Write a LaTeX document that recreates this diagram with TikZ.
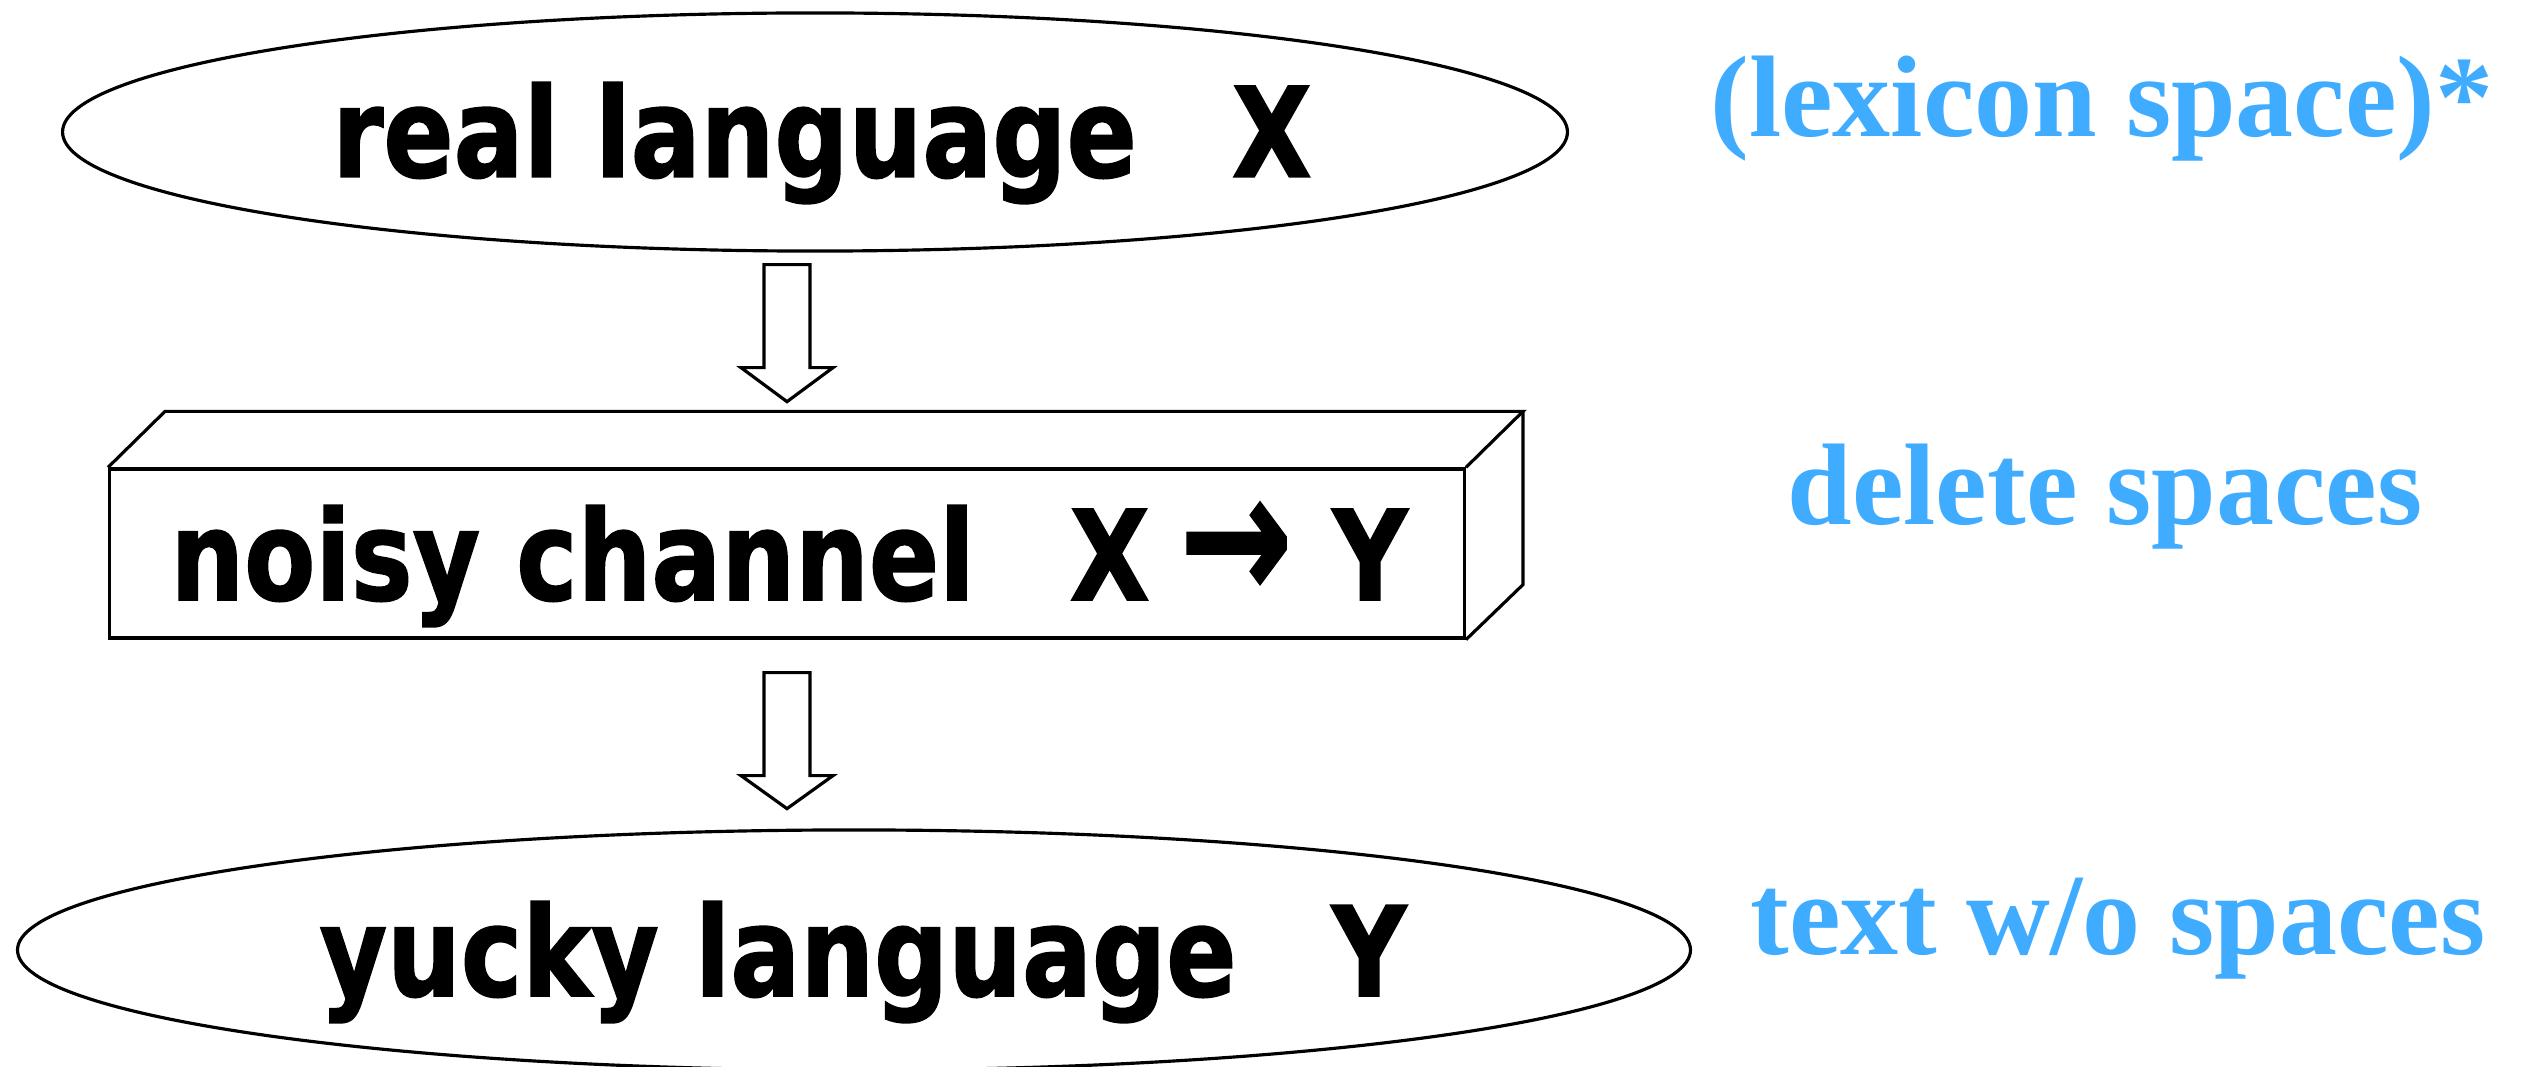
\documentclass[tikz,border=0pt]{standalone}
\usepackage{fontspec}
\usepackage{xcolor}
\usepackage{tikz}
\usetikzlibrary{shapes.geometric, calc}
\newfontfamily\slidefont{DejaVu Sans}[FakeStretch=0.83, FakeBold=1.2]
\newfontfamily\notefont{Liberation Serif}
\definecolor{noteblue}{RGB}{64,172,255}
\tikzstyle{language} = [ellipse, draw=black, line width=0.9pt, inner sep=0pt]
\tikzstyle{channel} = [rectangle, draw=black, line width=0.9pt, minimum width=13.54cm, minimum height=1.69cm, inner sep=0pt]
\tikzstyle{bigtext} = [anchor=base, inner sep=0pt, font=\slidefont\bfseries\fontsize{35.5}{42}\selectfont]
\tikzstyle{note} = [anchor=base, inner sep=0pt, text=noteblue, font=\notefont\bfseries\fontsize{33}{40}\selectfont]
\tikzstyle{edge} = [draw=black, line width=0.9pt]
\tikzstyle{blockarrow} = [draw=black, line width=0.9pt, fill=white, line join=miter]

\begin{document}
\begin{tikzpicture}[x=0.01cm, y=-0.01cm]
  \useasboundingbox (0,0) rectangle (2528,1067);

  % Real language
  \node (real) [language, minimum width=15.04cm, minimum height=2.38cm] at (815,132) {};
  \node (realtext) [bigtext] at (822,177) {real language\hspace{0.95cm}X};

  % Noisy channel (box)
  \node (box) [channel] at (787,553.5) {};
  \draw [edge] (box.north west) -- ++(57,-56) -- ($(box.north east)+(57,-56)$) -- (box.north east);
  \draw [edge] ($(box.north east)+(57,-56)$) -- ($(box.south east)+(57,-55)$) -- (box.south east);
  \node (boxtext) [bigtext] at (789,600) {noisy channel\hspace{0.95cm}X\hspace{0.3cm}\scalebox{1.3}[1.45]{→}\hspace{0.4cm}Y};

  % Yucky language
  \node (yucky) [language, minimum width=16.72cm, minimum height=2.40cm] at (854,950) {};
  \node (yuckytext) [bigtext] at (863,996) {yucky language\hspace{0.95cm}Y};

  % Notes
  \node (lexnote) [note] at (2102,137) {(lexicon space)*};
  \node (delnote) [note] at (2105,524) {delete spaces};
  \node (textnote) [note] at (2118,954) {text w/o spaces};

  % Arrows
  \draw [blockarrow] ($(real.south -| box.north)+(-23,12)$) -- ++(46,0) -- ++(0,103) -- ++(23,0) -- ++(-46,34) -- ++(-46,-34) -- ++(23,0) -- cycle;
  \draw [blockarrow] ($(box.south)+(-23,33)$) -- ++(46,0) -- ++(0,103) -- ++(23,0) -- ++(-46,33) -- ++(-46,-33) -- ++(23,0) -- cycle;

\end{tikzpicture}
\end{document}
